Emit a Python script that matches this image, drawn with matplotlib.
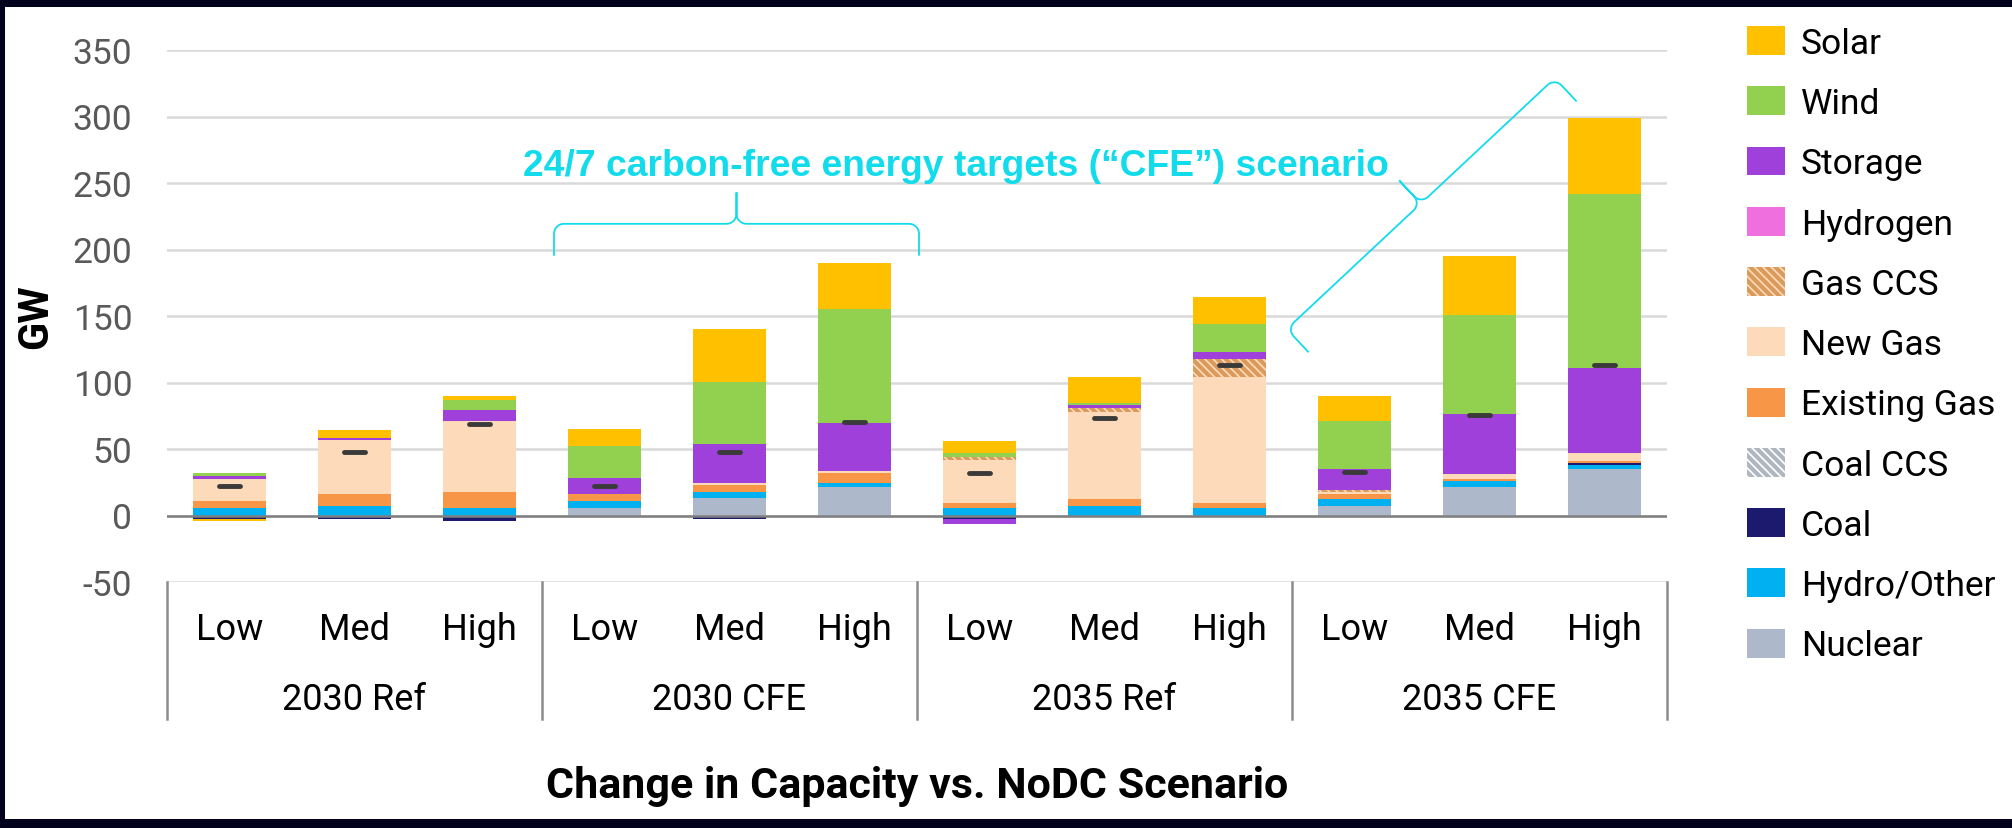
import numpy as np
import matplotlib
matplotlib.use("Agg")
import matplotlib.pyplot as plt
from matplotlib.patches import Rectangle

# categorias e grupos
categories = ["Low", "Med", "High"] * 4
groups = ["2030 Ref", "2030 CFE", "2035 Ref", "2035 CFE"]

# valores (GW), ordem de empilhamento de baixo para cima
nuclear = [0, 0, 0, 6, 12.8, 21.5, 0, 0, 0, 7, 21.3, 35.3]
hydro = [5.5, 7.5, 5.5, 5, 5, 3.3, 5.3, 7.5, 5.3, 5.3, 5, 3]
coal = [-2.5, -2.5, -4.5, 0, -2.5, 0, -2.3, 0, 0, 0, 0, 1.2]
coal_ccs = [0, 0, 0, 0, 0, 0, 0, 0, 0, 0, 0, 0]
existing_gas = [5.3, 8.3, 12.3, 5, 5, 6.8, 3.8, 4.8, 3.8, 3.5, 1.5, 1.2]
new_gas = [17, 41, 53.3, 0, 1.8, 1.8, 33, 65.6, 95, 1.8, 3.5, 6.3]
gas_ccs = [0, 0, 0, 0, 0, 0, 1.8, 3.3, 13.8, 1.5, 0, 0]
hydrogen = [0, 0, 0, 0, 0, 0, 0, 0, 0, 0, 0, 0]
storage = [1.7, 1.8, 8.5, 12, 29.3, 35.8, -3.8, 1.8, 4.8, 16, 44.8, 63.9]
wind = [2.3, 0, 7, 24.3, 46.6, 86, 3, 1.8, 21, 36, 74.4, 130.7]
solar = [-1.5, 5.8, 3.5, 12.5, 39.8, 35, 8.8, 19.3, 20.8, 19, 44.6, 57]
net_change = [22, 48, 69, 22, 48, 70, 32.3, 73.6, 113.4, 32.6, 75.6, 113.4]

series = [
    ("Nuclear", nuclear, "#ADB9CA", None, None),
    ("Hydro/Other", hydro, "#00B0F0", None, None),
    ("Coal", coal, "#1B1A6E", None, None),
    ("Coal CCS", coal_ccs, "#FFFFFF", "#AEB6BF", "\\\\\\\\"),
    ("Existing Gas", existing_gas, "#F79646", None, None),
    ("New Gas", new_gas, "#FDDAB9", None, None),
    ("Gas CCS", gas_ccs, "#FDDAB9", "#D99A5B", "\\\\\\\\"),
    ("Hydrogen", hydrogen, "#EE6FDD", None, None),
    ("Storage", storage, "#A040DB", None, None),
    ("Wind", wind, "#92D050", None, None),
    ("Solar", solar, "#FFC000", None, None),
]

plt.rcParams["font.family"] = ["Roboto", "DejaVu Sans"]
plt.rcParams["hatch.linewidth"] = 3.0
plt.rcParams["axes.unicode_minus"] = False

W, H = 2012, 829
fig = plt.figure(figsize=(W / 100, H / 100), dpi=100)
fig.patch.set_facecolor("#02021C")
fig.patches.append(Rectangle((5 / W, 9 / H), 1, 1 - 17 / H, transform=fig.transFigure,
                             facecolor="white", edgecolor="none", zorder=-5))

ax = fig.add_axes([167 / W, 1 - 583 / H, 1500 / W, 532 / H])
ax.set_facecolor("white")

x = np.arange(len(categories))
pos_base = np.zeros(len(x))
neg_base = np.zeros(len(x))
handles = {}
for name, vals, color, hcolor, hatch in series:
    v = np.array(vals, dtype=float)
    bottom = np.where(v >= 0, pos_base, neg_base)
    bars = ax.bar(x, v, 0.59, bottom=bottom, color=color, linewidth=0,
                  edgecolor=hcolor if hcolor else color, hatch=hatch, zorder=2, label=name)
    handles[name] = bars
    pos_base += np.where(v > 0, v, 0)
    neg_base += np.where(v < 0, v, 0)

# marcador da variacao liquida
ax.hlines(net_change, x - 0.085, x + 0.085, colors="#3A3A3A", linewidth=3.5,
          capstyle="round", zorder=4)

ax.axhline(0, color="#7F7F7F", linewidth=1.8, zorder=3)

ax.set_xlim(-0.5, len(x) - 0.5)
ax.set_ylim(-50, 350)
ax.set_yticks(np.arange(-50, 351, 50))
ax.yaxis.grid(True, color="#D9D9D9", linewidth=1.8)
ax.set_axisbelow(True)
ax.set_xticks([])
for s in ax.spines.values():
    s.set_visible(False)
ax.tick_params(axis="y", length=0, pad=25, labelsize=25.5, labelcolor="#595959")

# rotulos do eixo x em dois niveis
xt = ax.get_xaxis_transform()
for i, c in enumerate(categories):
    ax.text(i, -0.107, c, transform=xt, ha="center", va="baseline", fontsize=26)
for g, name in enumerate(groups):
    ax.text(3 * g + 1, -0.2387, name, transform=xt, ha="center", va="baseline", fontsize=26)
for k in range(len(groups) + 1):
    ax.plot([3 * k - 0.5, 3 * k - 0.5], [0, -0.2575], transform=xt, color="#8C8C8C",
            linewidth=1.8, clip_on=False)

fig.text(917 / W, 1 - 798 / H, "Change in Capacity vs. NoDC Scenario", ha="center",
         va="baseline", fontsize=31, fontweight="bold")
fig.text(36 / W, 1 - 317 / H, "GW", rotation=90, ha="center", va="center",
         fontsize=30, fontweight="bold")

# anotacao CFE
cyan = "#12DCEB"
ax.text(5.81, 256, "24/7 carbon-free energy targets (\u201cCFE\u201d) scenario", ha="center",
        va="baseline", fontsize=26.8, fontweight="bold", color=cyan,
        family=["Liberation Sans", "DejaVu Sans"])


def brace(p0, p1, depth=31, r=10):
    a = ax.transData.transform(p0)
    b = ax.transData.transform(p1)
    d = b - a
    L = np.hypot(*d)
    u = d / L
    n = np.array([-u[1], u[0]])
    t = np.linspace(0, np.pi / 2, 15)
    half = [(0, 0), (0, depth - r)]
    half += list(zip(r - r * np.cos(t), depth - r + r * np.sin(t)))
    half += list(zip(L / 2 - r + r * np.sin(t), depth + r - r * np.cos(t)))
    half += [(L / 2, 2 * depth)]
    other = [(L - s, f) for s, f in reversed(half)]
    pts = np.array(half + other)
    disp = a + pts[:, :1] * u + pts[:, 1:] * n
    dat = ax.transData.inverted().transform(disp)
    ax.plot(dat[:, 0], dat[:, 1], color=cyan, linewidth=1.3, clip_on=False, zorder=5)


brace((2.596, 196), (5.516, 196))
brace((8.628, 123.2), (10.772, 311.8))

legend_order = ["Solar", "Wind", "Storage", "Hydrogen", "Gas CCS", "New Gas",
                "Existing Gas", "Coal CCS", "Coal", "Hydro/Other", "Nuclear"]
ax.legend([handles[n] for n in legend_order], legend_order, loc="upper left",
          bbox_to_anchor=(1747 / W, 1 - 27 / H), bbox_transform=fig.transFigure,
          frameon=False, fontsize=25.5, borderpad=0, borderaxespad=0,
          handlelength=1.07, handleheight=0.88, handletextpad=0.45, labelspacing=0.75)

fig.savefig("out.png", dpi=100, facecolor=fig.get_facecolor())
